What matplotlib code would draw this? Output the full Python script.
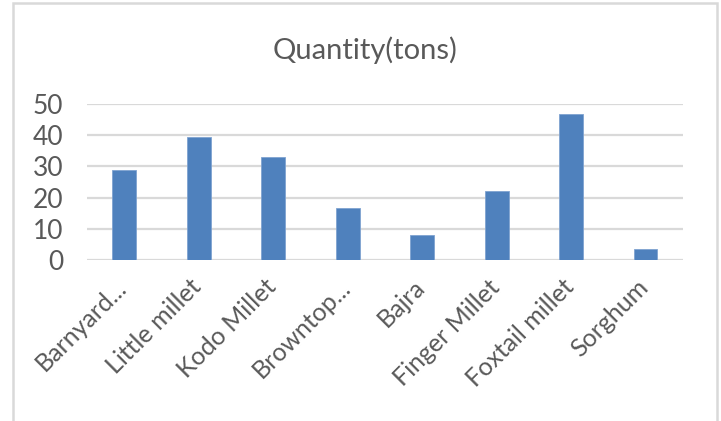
import matplotlib
matplotlib.use('Agg')
import matplotlib.pyplot as plt
import matplotlib.transforms as mtransforms
from matplotlib.patches import Rectangle

# millet quantities in tons
crops = ['Barnyard...', 'Little millet', 'Kodo Millet', 'Browntop...',
         'Bajra', 'Finger Millet', 'Foxtail millet', 'Sorghum']
quantity = [29, 39.3, 33, 16.7, 8, 22, 46.7, 3.6]
yticks = [0, 10, 20, 30, 40, 50]

plt.rcParams['font.family'] = ['Lato', 'DejaVu Sans']

fig = plt.figure(figsize=(7.21, 4.21), dpi=100)
ax = fig.add_axes([0.1207, 0.3824, 0.8263, 0.3706])

# light frame around the chart area
fig.patches.append(Rectangle((12.5 / 721, -0.1), (717 - 12.5) / 721, 1.1 - 3.5 / 421,
                             transform=fig.transFigure, fill=False,
                             edgecolor='#d9d9d9', linewidth=1.8))

x = range(len(crops))
ax.bar(x, quantity, width=0.32, color='#4f81bd', edgecolor='#7fa3d1',
       linewidth=0.6, zorder=3)

ax.set_xlim(-0.5, len(crops) - 0.5)
ax.set_ylim(0, 50)
ax.set_yticks(yticks)
ax.yaxis.grid(True, color='#d9d9d9', linewidth=1.6, zorder=0)
ax.set_axisbelow(True)
for s in ax.spines.values():
    s.set_visible(False)
ax.tick_params(length=0, colors='#595959', labelsize=19)
ax.tick_params(axis='x', labelsize=18, pad=11)
ax.tick_params(axis='y', pad=17)
ax.set_xticks(list(x))
ax.set_xticklabels(crops, rotation=45, ha='right', rotation_mode='default')
shift = mtransforms.ScaledTranslation(7 / 100, 0, fig.dpi_scale_trans)
for lbl in ax.get_xticklabels():
    lbl.set_transform(lbl.get_transform() + shift)

fig.text(365 / 721, 1 - 50 / 421, 'Quantity(tons)', ha='center', va='center',
         fontsize=21, color='#595959')

fig.savefig('out.png', dpi=100)
